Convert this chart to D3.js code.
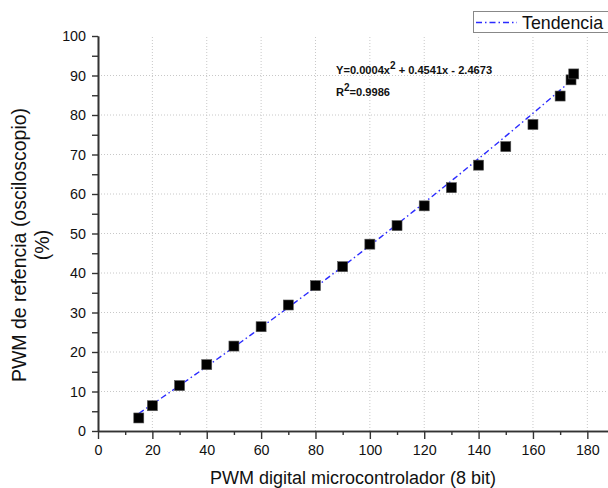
<!DOCTYPE html>
<html>
<head>
<meta charset="utf-8">
<script src="https://cdn.jsdelivr.net/npm/d3@7"></script>
<style>
  html, body { margin: 0; padding: 0; background: #fff; }
  svg { display: block; font-family: Arial, "Liberation Sans", sans-serif; }
</style>
</head>
<body>
<svg id="chart" width="608" height="488"></svg>
<script>
// PWM set in the microcontroller (8 bit) vs duty cycle measured on the oscilloscope
const pwmDigital = [15, 20, 30, 40, 50, 60, 70, 80, 90, 100, 110, 120, 130, 140, 150, 160, 170, 174, 175];
const pwmMeasured = [3.3, 6.4, 11.5, 16.8, 21.5, 26.4, 31.9, 36.8, 41.6, 47.3, 52.0, 57.0, 61.6, 67.3, 72.0, 77.6, 84.8, 88.9, 90.4];

// Quadratic fit coefficients: Y = a x^2 + b x + c
const fitCoef = [0.0004, 0.4541, -2.4673];
const fitRange = [15, 175];
const fitR2 = "0.9986";

const xTicks = [0, 20, 40, 60, 80, 100, 120, 140, 160, 180];
const yTicks = [0, 10, 20, 30, 40, 50, 60, 70, 80, 90, 100];

const svg = d3.select("#chart");
const x = d3.scaleLinear().domain([0, 190]).range([98, 98 + 190 * 2.7185]);
const y = d3.scaleLinear().domain([0, 100]).range([431, 36]);

// dotted grid
const grid = svg.append("g").attr("stroke", "#c8c8c8").attr("stroke-width", 1).attr("stroke-dasharray", "1,2");
grid.selectAll("line.v").data(xTicks.filter(d => d > 0)).join("line")
  .attr("x1", d => x(d)).attr("x2", d => x(d)).attr("y1", y(0)).attr("y2", y(100));
grid.selectAll("line.h").data(yTicks.filter(d => d > 0 && d < 100)).join("line")
  .attr("x1", x(0)).attr("x2", 608).attr("y1", d => y(d)).attr("y2", d => y(d));

// axes
const xAxis = d3.axisBottom(x).tickValues(xTicks).tickSize(8).tickPadding(6).tickSizeOuter(0);
const xMinor = d3.axisBottom(x).tickValues(d3.range(10, 190, 20)).tickSize(4).tickFormat("").tickSizeOuter(0);
const yAxis = d3.axisLeft(y).tickValues(yTicks).tickSize(6).tickPadding(6).tickSizeOuter(0);
const yMinor = d3.axisLeft(y).tickValues(d3.range(5, 100, 10)).tickSize(6).tickFormat("").tickSizeOuter(0);

function styleAxis(g) {
  g.select(".domain").attr("stroke", "#333").attr("stroke-width", 1.6);
  g.selectAll(".tick line").attr("stroke", "#333").attr("stroke-width", 1.4);
  g.selectAll(".tick text").attr("fill", "#111").attr("font-size", 14.3).attr("font-family", "Arial, 'Liberation Sans', sans-serif");
}
svg.append("g").attr("transform", `translate(0,${y(0)})`).call(xMinor).call(styleAxis);
svg.append("g").attr("transform", `translate(0,${y(0)})`).call(xAxis).call(styleAxis);
svg.append("g").attr("transform", `translate(${x(0)},0)`).call(yMinor).call(styleAxis);
svg.append("g").attr("transform", `translate(${x(0)},0)`).call(yAxis).call(styleAxis);

// fitted curve
const fitX = d3.range(fitRange[0], fitRange[1] + 0.01, 1);
const fit = v => fitCoef[0] * v * v + fitCoef[1] * v + fitCoef[2];
const line = d3.line().x(d => x(d)).y(d => y(fit(d)));
svg.append("path").datum(fitX).attr("d", line)
  .attr("fill", "none").attr("stroke", "#2b2bff").attr("stroke-width", 1.4)
  .attr("stroke-dasharray", "6,3,1.5,3");

// measured points
const pts = pwmDigital.map((d, i) => [d, pwmMeasured[i]]);
svg.append("g").selectAll("rect").data(pts).join("rect")
  .attr("x", d => x(d[0]) - 5).attr("y", d => y(d[1]) - 5)
  .attr("width", 10).attr("height", 10)
  .attr("fill", "#000").attr("stroke", "#555").attr("stroke-width", 0.6);

// equation
const eqFont = "'Liberation Sans Narrow', Arial, sans-serif";
const eq = svg.append("text").attr("x", 336).attr("y", 74)
  .attr("font-size", 11.1).attr("font-weight", "bold").attr("fill", "#111").attr("font-family", eqFont);
eq.append("tspan").text(`Y=${fitCoef[0]}x`);
eq.append("tspan").attr("dy", -5).attr("font-size", 10).text("2");
eq.append("tspan").attr("dy", 5).text(` + ${fitCoef[1]}x - ${Math.abs(fitCoef[2])}`);
const r2 = svg.append("text").attr("x", 336).attr("y", 96)
  .attr("font-size", 11.1).attr("font-weight", "bold").attr("fill", "#111").attr("font-family", eqFont);
r2.append("tspan").text("R");
r2.append("tspan").attr("dy", -5).attr("font-size", 10).text("2");
r2.append("tspan").attr("dy", 5).text(`=${fitR2}`);

// legend
const lg = svg.append("g");
lg.append("rect").attr("x", 473.5).attr("y", 11.5).attr("width", 140).attr("height", 21)
  .attr("fill", "#fff").attr("stroke", "#888").attr("stroke-width", 1);
lg.append("line").attr("x1", 476).attr("x2", 517).attr("y1", 22.5).attr("y2", 22.5)
  .attr("stroke", "#2b2bff").attr("stroke-width", 1.4).attr("stroke-dasharray", "6,3,1.5,3");
lg.append("text").attr("x", 522).attr("y", 28.5).attr("font-size", 17.8).attr("fill", "#111").text("Tendencia");

// axis titles
svg.append("text").attr("x", 353).attr("y", 484).attr("text-anchor", "middle")
  .attr("font-size", 18).attr("fill", "#111").text("PWM digital microcontrolador (8 bit)");
const yt = svg.append("text").attr("transform", "translate(0,245) rotate(-90)")
  .attr("text-anchor", "middle").attr("font-size", 19.5).attr("fill", "#111");
yt.append("tspan").attr("x", 0).attr("y", 26).text("PWM de refencia (osciloscopio)");
yt.append("tspan").attr("x", 0).attr("y", 49).text("(%)");
</script>
</body>
</html>
